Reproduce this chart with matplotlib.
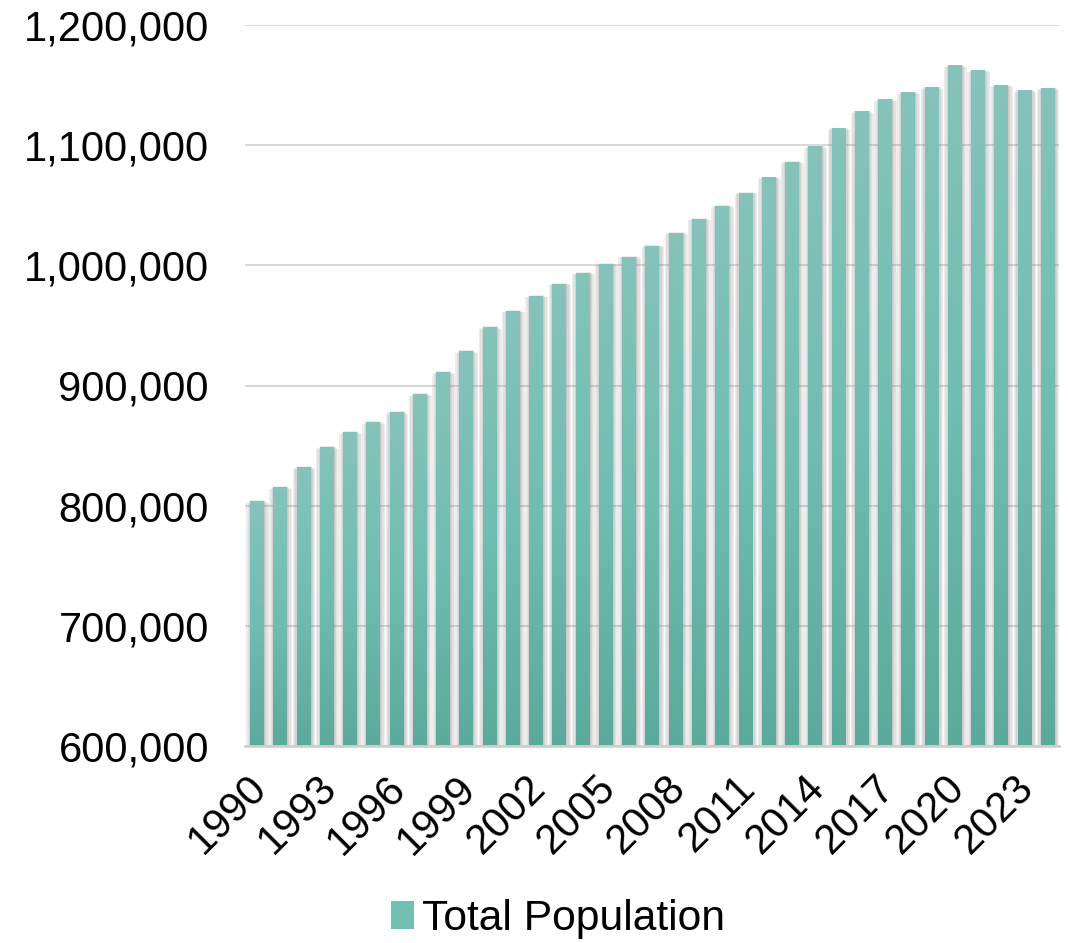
import numpy as np
import matplotlib
matplotlib.use("Agg")
import matplotlib.pyplot as plt
import matplotlib.transforms as mtransforms
from matplotlib.colors import LinearSegmentedColormap
from matplotlib.patches import Patch
from matplotlib.ticker import FuncFormatter

years = list(range(1990, 2025))
population = [803900, 815600, 832300, 848900, 861400, 869750, 878100, 893100,
              911400, 928900, 948900, 962250, 974750, 984750, 993900, 1001400,
              1007250, 1016400, 1027250, 1038900, 1049750, 1060600, 1073100,
              1086400, 1098900, 1113900, 1128100, 1138100, 1143900, 1148100,
              1166400, 1162250, 1149750, 1145600, 1147250]
series_name = "Total Population"
tick_years = years[::3]

plt.rcParams['font.family'] = ['Liberation Sans', 'DejaVu Sans']

W, H = 1068, 943
fig = plt.figure(figsize=(W / 100, H / 100), dpi=100)
ax = fig.add_axes([245 / W, 1 - 746 / H, (1059 - 245) / W, (746 - 25) / H])

ymin, ymax = 600000, 1200000
x = np.arange(len(years))
bw = 0.56
pop = np.array(population)

# soft shadow layers behind the bars
for w, a, dh in [(0.98, 0.13, 0), (0.86, 0.10, 800), (0.74, 0.12, 1500), (0.64, 0.13, 2200)]:
    ax.bar(x + 0.04, pop + dh - 1500, width=w, bottom=0,
           color='#7a7a7a', alpha=a, linewidth=0, zorder=1)

cmap = LinearSegmentedColormap.from_list('g', ['#5caa9c', '#70bdb1', '#86c3ba'])
grad = np.linspace(0, 1, 256).reshape(-1, 1)
bars = ax.bar(x, pop, width=bw, color='none', linewidth=0, zorder=3)
for b in bars:
    x0 = b.get_x()
    h = b.get_height()
    im = ax.imshow(grad, cmap=cmap, aspect='auto', origin='lower',
                   extent=[x0, x0 + bw, ymin, h], zorder=3, interpolation='bilinear')
    im.set_clip_path(b)

ax.set_xlim(-0.5, len(years) - 0.5)
ax.set_ylim(ymin, ymax)
ax.set_yticks(np.arange(ymin, ymax + 1, 100000))
ax.yaxis.set_major_formatter(FuncFormatter(lambda v, p: f"{int(v):,}"))
ax.grid(axis='y', color='#d9d9d9', linewidth=1.5, zorder=0)
ax.set_axisbelow(True)
for s in ['top', 'right', 'left']:
    ax.spines[s].set_visible(False)
ax.spines['bottom'].set_color('#d0d0d0')
ax.spines['bottom'].set_linewidth(2)
ax.spines['bottom'].set_zorder(4)

ax.set_xticks([years.index(t) for t in tick_years])
ax.set_xticklabels([str(t) for t in tick_years], rotation=45, ha='right', va='center',
                   rotation_mode='anchor', fontsize=30)
ax.tick_params(axis='both', length=0, labelsize=30, colors='black')
ax.tick_params(axis='y', pad=26)
ax.tick_params(axis='x', pad=26)
offset = mtransforms.ScaledTranslation(4 / 100, 0, fig.dpi_scale_trans)
for lab in ax.get_xticklabels():
    lab.set_transform(lab.get_transform() + offset)

handle = Patch(facecolor='#72bfb3', edgecolor='none')
fig.legend([handle], [series_name], loc='center', bbox_to_anchor=(558 / W, 1 - 919 / H),
           frameon=False, fontsize=30.7, handlelength=0.55, handleheight=0.6,
           handletextpad=0.2)

fig.savefig('out.png', dpi=100)
